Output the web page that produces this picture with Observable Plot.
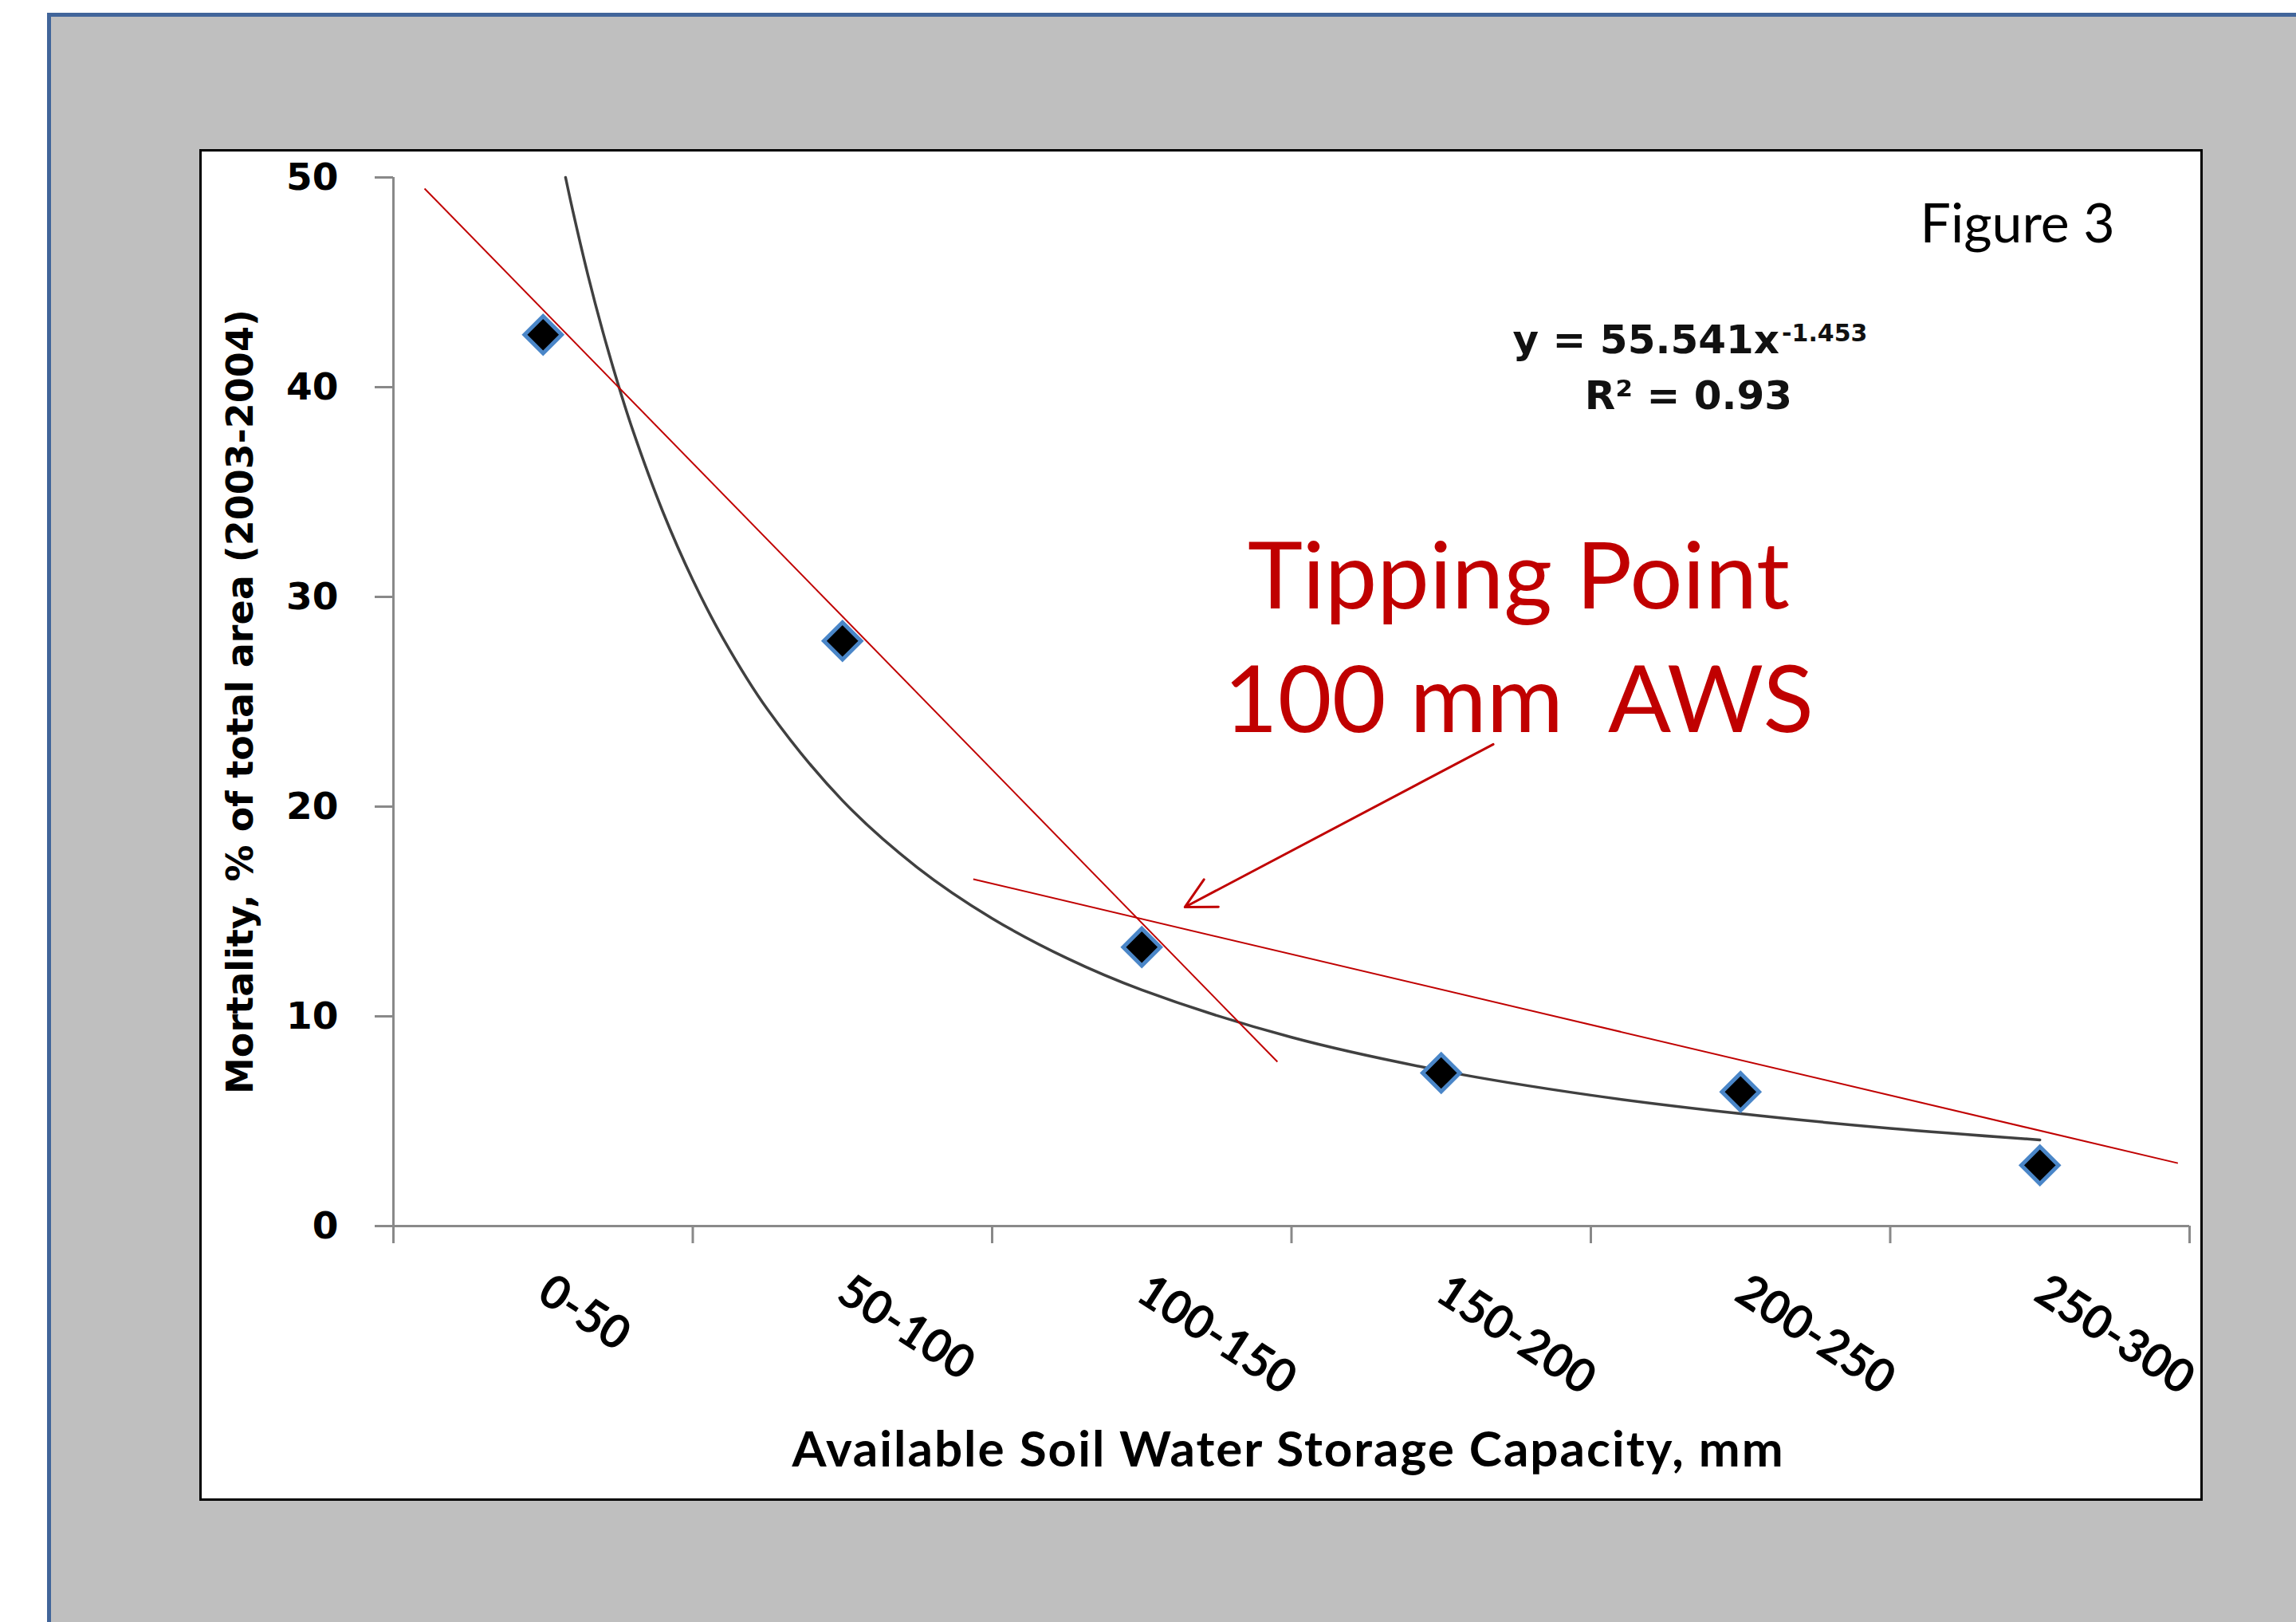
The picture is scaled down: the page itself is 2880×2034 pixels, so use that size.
<!DOCTYPE html>
<html><head><meta charset="utf-8">
<script src="https://cdn.jsdelivr.net/npm/d3@7"></script>
<script src="https://cdn.jsdelivr.net/npm/@observablehq/plot@0.6"></script>
<style>
html,body{margin:0;padding:0;background:#fff;}
body{width:2880px;height:2034px;position:relative;overflow:hidden;}
#panel{position:absolute;left:59px;top:16px;width:2900px;height:2100px;background:#bfbfbf;border:5px solid #41659a;box-sizing:border-box;}
#chart{position:absolute;left:250px;top:187px;width:2513px;height:1695px;border:3px solid #000;background:#fff;box-sizing:border-box;}
#chart svg{display:block;}
svg text{white-space:pre;}
</style></head><body>
<div id="panel"></div>
<div id="chart"></div>
<script>
// ---- data ----
const categories = ["0-50", "50-100", "100-150", "150-200", "200-250", "250-300"];
const mortality = [42.5, 27.9, 13.3, 7.3, 6.4, 2.9];
const yTicks = [0, 10, 20, 30, 40, 50];
// power trendline (category index 1..6)
const trendX = [1.075, 1.1, 1.15, 1.2, 1.25, 1.3, 1.4, 1.5, 1.6, 1.75, 2, 2.25, 2.5, 2.75, 3, 3.5, 4, 4.5, 5, 5.5, 6];
const trendY = [50, 48.36, 45.33, 42.62, 40.16, 37.93, 34.06, 30.81, 28.05, 24.63, 20.29, 17.10, 14.67, 12.77, 11.26, 9.00, 7.41, 6.24, 5.36, 4.66, 4.11];
// red hand-drawn guide lines (x in category index units, y in %)
const guideX1 = [0.604, 2.437];
const guideY1 = [49.47, 16.54];
const guideX2 = [3.453, 6.461];
const guideY2 = [7.83, 3.0];
// texts
const yLabel = "Mortality, % of total area (2003-2004)";
const xLabel = "Available Soil Water Storage Capacity, mm";
const eqMain = "y = 55.541x";
const eqExp = "-1.453";
const r2Text = "R² = 0.93";
const figText = "Figure 3";
const tipText = ["Tipping Point", "100 mm  AWS"];

// ---- tables built from the arrays ----
const pts = categories.map((c, i) => ({cat: c, xi: i + 1, y: mortality[i]}));
const trend = trendX.map((x, i) => ({x, y: trendY[i]}));
const guides = guideX1.map((x, i) => ({x1: x, y1: guideY1[i], x2: guideX2[i], y2: guideY2[i]}));
const bounds = d3.range(0, categories.length + 1).map(i => i + 0.5);

const RED = "#c00000";
const AXIS = "#898989";

const plot = Plot.plot({
  width: 2507, height: 1689,
  marginLeft: 240, marginRight: 14, marginTop: 32, marginBottom: 342,
  x: {type: "linear", domain: [0.5, 6.5], axis: null},
  y: {domain: [0, 50], axis: null},
  style: {background: "white", color: "black", overflow: "visible"},
  marks: [
    Plot.axisY({ticks: yTicks, tickSize: 23, tickPadding: 46, stroke: AXIS, strokeWidth: 3, fill: "black",
      fontSize: 47, fontWeight: "bold", fontFamily: "DejaVu Sans", label: null}),
    Plot.axisX({ticks: bounds, tickSize: 22, tickFormat: () => "", stroke: AXIS, strokeWidth: 3, label: null}),
    Plot.ruleY([0], {x1: 0.5, x2: 6.5, stroke: AXIS, strokeWidth: 3}),
    Plot.ruleX([0.5], {y1: 0, y2: 50, stroke: AXIS, strokeWidth: 3}),
    Plot.text(pts, {x: "xi", text: "cat", frameAnchor: "bottom", dy: 76, rotate: 33, textAnchor: "start", lineAnchor: "middle",
      fontSize: 58, fontWeight: "bold", fontFamily: "Lato", fill: "black"}),
    Plot.text([xLabel], {frameAnchor: "bottom", dy: 301, dx: -4, lineAnchor: "bottom", textAnchor: "middle",
      fontSize: 62, fontWeight: "bold", fontFamily: "Lato", fill: "black"}),
    Plot.text([yLabel], {frameAnchor: "left", dx: -191, rotate: -90, textAnchor: "middle", lineAnchor: "middle",
      fontSize: 46, fontWeight: "bold", fontFamily: "DejaVu Sans", fill: "black"}),
    Plot.line(trend, {x: "x", y: "y", curve: "catmull-rom", stroke: "#404040", strokeWidth: 3.5}),
    Plot.link(guides, {x1: "x1", y1: "y1", x2: "x2", y2: "y2", stroke: RED, strokeWidth: 2}),
    Plot.arrow([{x1: 4.174, y1: 22.97, x2: 3.144, y2: 15.21}], {x1: "x1", y1: "y1", x2: "x2", y2: "y2",
      stroke: RED, strokeWidth: 3, headLength: 21, headAngle: 55}),
    Plot.dot(pts, {x: "xi", y: "y", symbol: "diamond2", r: 21, fill: "black", stroke: "#4a86c8", strokeWidth: 5}),
    Plot.text([eqMain], {x: 5.13, y: 41.63, textAnchor: "end", lineAnchor: "bottom",
      fontSize: 50, fontWeight: "bold", fontFamily: "DejaVu Sans", fill: "#111"}),
    Plot.text([eqExp], {x: 5.13, y: 41.63, dx: 3, dy: -15, textAnchor: "start", lineAnchor: "bottom",
      fontSize: 30, fontWeight: "bold", fontFamily: "DejaVu Sans", fill: "#111"}),
    Plot.text([r2Text], {x: 4.826, y: 38.94, textAnchor: "middle", lineAnchor: "bottom",
      fontSize: 50, fontWeight: "bold", fontFamily: "DejaVu Sans", fill: "#111"}),
    Plot.text([figText], {x: 6.25, y: 46.92, textAnchor: "end", lineAnchor: "bottom",
      fontSize: 68, fontFamily: "Lato", fill: "black"}),
    Plot.text(tipText, {x: 4.259, y: (d, i) => [29.43, 23.57][i], text: d => d, textAnchor: "middle", lineAnchor: "bottom",
      fontSize: 117, fontFamily: "Lato", fill: RED})
  ]
});
document.getElementById("chart").appendChild(plot);
d3.select(plot).selectAll("text").filter(function () { return this.textContent === xLabel; }).attr("letter-spacing", 2);
</script>
</body></html>
